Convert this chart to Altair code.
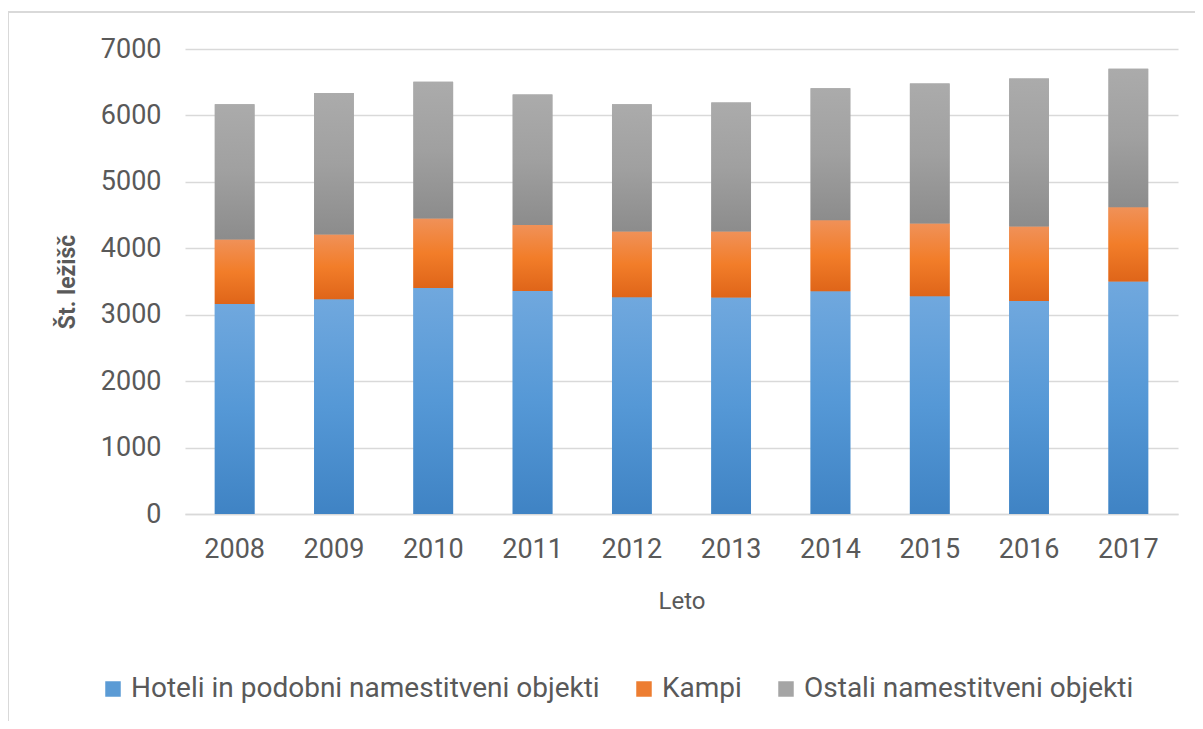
import altair as alt
import pandas as pd

years = ["2008", "2009", "2010", "2011", "2012", "2013", "2014", "2015", "2016", "2017"]
series = ["Hoteli in podobni namestitveni objekti", "Kampi", "Ostali namestitveni objekti"]
hoteli = [3163, 3233, 3404, 3358, 3263, 3258, 3354, 3279, 3208, 3499]
kampi = [968, 973, 1043, 994, 989, 994, 1069, 1093, 1119, 1120]
ostali = [2039, 2130, 2059, 1963, 1918, 1943, 1988, 2109, 2229, 2083]
y_ticks = [0, 1000, 2000, 3000, 4000, 5000, 6000, 7000]

rows = []
for vals, name, order in [(hoteli, series[0], 0), (kampi, series[1], 1), (ostali, series[2], 2)]:
    for yr, v in zip(years, vals):
        rows.append({"Leto": yr, "Serija": name, "value": v, "order": order})
df = pd.DataFrame(rows)

TXT = "#595959"
GRID = "#d9d9d9"
FONT = "Roboto"

base_colors = ["#5b9bd5", "#ed7d31", "#a5a5a5"]
gradients = [
    ("#70a8de", "#5598d6", "#3f83c4"),
    ("#f09158", "#f27d29", "#df6519"),
    ("#ababab", "#a0a0a0", "#8c8c8c"),
]

x_enc = alt.X(
    "Leto:N",
    sort=years,
    scale=alt.Scale(paddingInner=0.6, paddingOuter=0.3),
    axis=alt.Axis(
        title="Leto", labelAngle=0, labelFontSize=27, labelColor=TXT, labelFont=FONT,
        labelPadding=22, labelBaseline="top", ticks=False, domain=True,
        domainColor=GRID, domainWidth=1.5,
        titleFontSize=24, titleFont=FONT, titleColor=TXT, titleFontWeight="normal",
        titleY=87, titleBaseline="middle",
    ),
)
y_enc = alt.Y(
    "y1:Q",
    scale=alt.Scale(domain=[0, 7000], nice=False),
    axis=alt.Axis(
        title="Št. ležišč", values=y_ticks, format="d", labelFontSize=27, labelColor=TXT,
        labelFont=FONT, labelPadding=24, ticks=False, domain=False, grid=True,
        gridColor=GRID, gridWidth=1.5,
        titleFontSize=23, titleFont=FONT, titleColor=TXT, titleFontWeight="bold",
        titleX=-118, titleBaseline="middle",
    ),
)

stacked = alt.Chart(df).transform_stack(
    stack="value", groupby=["Leto"], as_=["y0", "y1"], sort=[alt.SortField("order", order="ascending")]
)

base = stacked.mark_bar().encode(
    x=x_enc,
    y=y_enc,
    y2="y0:Q",
    color=alt.Color(
        "Serija:N",
        scale=alt.Scale(domain=series, range=base_colors),
        sort=series,
        legend=alt.Legend(
            title=None, orient="none", direction="horizontal", legendX=-86, legendY=626,
            symbolType="square", symbolSize=240, symbolStrokeWidth=0, labelFontSize=28,
            labelFont=FONT, labelColor=TXT, labelOffset=4, columnPadding=30, padding=0,
            labelLimit=600,
        ),
    ),
)

layers = [base]
for name, (c0, c1, c2) in zip(series, gradients):
    grad = {
        "gradient": "linear", "x1": 0, "y1": 0, "x2": 0, "y2": 1,
        "stops": [
            {"offset": 0, "color": c0},
            {"offset": 0.5, "color": c1},
            {"offset": 1, "color": c2},
        ],
    }
    layers.append(
        stacked.transform_filter(alt.datum.Serija == name)
        .mark_bar(fill=grad)
        .encode(x=x_enc, y=y_enc, y2="y0:Q")
    )

frame_df = pd.DataFrame({"f": [0]})
frame_left = alt.Chart(frame_df).mark_rule(color=GRID, strokeWidth=2).encode(
    x=alt.value(-177), y=alt.value(-37), y2=alt.value(700)
)
frame_top = alt.Chart(frame_df).mark_rule(color=GRID, strokeWidth=2).encode(
    x=alt.value(-177), x2=alt.value(1100), y=alt.value(-37)
)
layers += [frame_left, frame_top]

chart = alt.layer(*layers).properties(
    width=993, height=465,
    autosize=alt.AutoSizeParams(type="none"),
    padding={"left": 177, "top": 41, "right": 17, "bottom": 207},
    background="white",
).configure_view(stroke=None)

chart.save("out.html", embed_options={"renderer": "svg", "actions": False})
